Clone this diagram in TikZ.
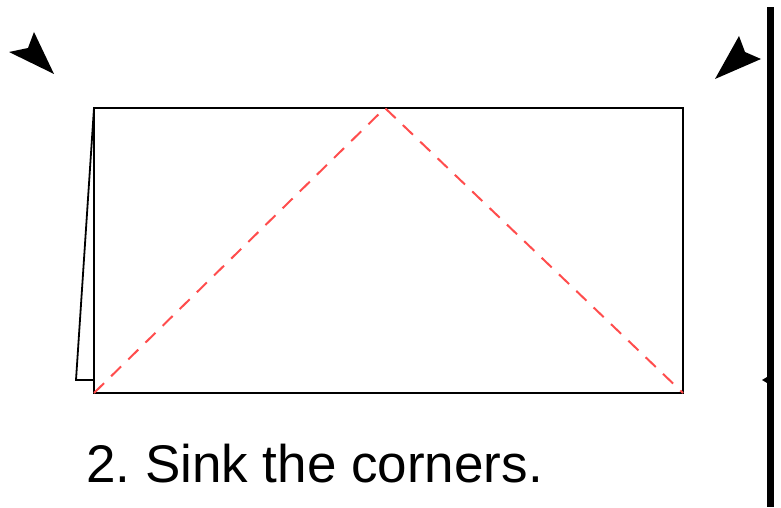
\documentclass[tikz,border=0pt]{standalone}
\usepackage{fontspec}
\setmainfont{Liberation Sans}
\usepackage{xcolor}
\definecolor{mRed}{HTML}{FF4D4D}

\begin{document}
\frenchspacing
\begin{tikzpicture}[x=1pt, y=-1pt,
  paper/.style={draw=black, line width=1.8pt, line join=miter},
  valley/.style={draw=mRed, line width=2pt, dash pattern=on 14pt off 10pt},
  pointer/.style={fill=black},
]
  \useasboundingbox (0,0) rectangle (781,508);

  % folded sheet with the flap behind on the left
  \draw[paper] (94,108) -- (76,380) -- (94,380);
  \draw[paper] (94,108) rectangle (683,393);
  \draw[valley] (94,393) -- (385,108) -- (683,393);

  % arrowheads at the corners
  \fill[pointer] (54,74) -- (34,32) -- (28,48) -- (9,52) -- cycle;
  \fill[pointer] (715,79) -- (739,36) -- (745,52) -- (761,59) -- cycle;

  % edge of the next panel
  \fill (767,7) rectangle (774,507);
  \fill (762,380) -- (767,377) -- (767,383) -- cycle;

  \node[anchor=base west, inner sep=0pt, font=\fontsize{53}{60}\selectfont]
    (caption) at (86,482) {2. Sink the corners.};
\end{tikzpicture}
\end{document}
